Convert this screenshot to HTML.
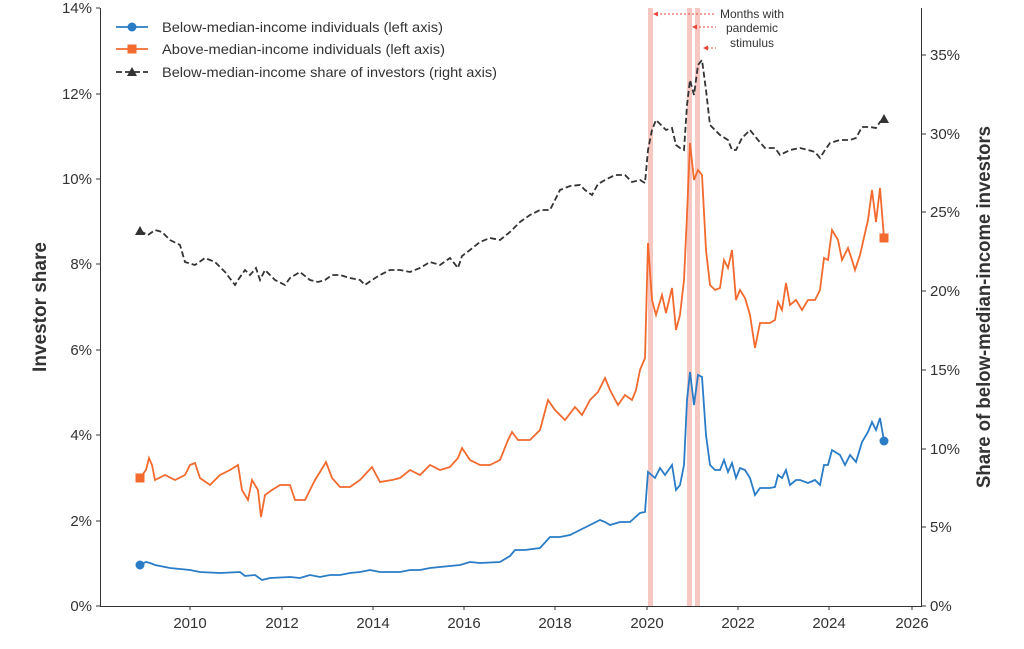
<!DOCTYPE html>
<html><head><meta charset="utf-8"><style>
html,body{margin:0;padding:0;background:#fff;}
svg text{font-family:"Liberation Sans",sans-serif;}
</style></head><body>
<svg width="1024" height="644" viewBox="0 0 1024 644" xmlns="http://www.w3.org/2000/svg">
<rect width="1024" height="644" fill="#fff"/>
<rect x="648" y="8" width="5" height="598" fill="#f4b6ae" opacity="0.75"/>
<rect x="687" y="8" width="5" height="598" fill="#f4b6ae" opacity="0.75"/>
<rect x="695" y="8" width="5" height="598" fill="#f4b6ae" opacity="0.75"/>
<g stroke="#333" stroke-width="1" fill="none">
<line x1="100.5" y1="8" x2="100.5" y2="606"/>
<line x1="921.5" y1="8" x2="921.5" y2="606"/>
<line x1="100" y1="606.5" x2="922" y2="606.5"/>
</g>
<g font-size="15" fill="#333" text-anchor="end">
<text x="92" y="611">0%</text><text x="92" y="526">2%</text><text x="92" y="440">4%</text>
<text x="92" y="355">6%</text><text x="92" y="269">8%</text><text x="92" y="184">10%</text>
<text x="92" y="99">12%</text><text x="92" y="13">14%</text>
</g>
<g stroke="#333"><line x1="96" y1="606" x2="100" y2="606"/><line x1="96" y1="521" x2="100" y2="521"/><line x1="96" y1="435" x2="100" y2="435"/><line x1="96" y1="350" x2="100" y2="350"/><line x1="96" y1="264" x2="100" y2="264"/><line x1="96" y1="179" x2="100" y2="179"/><line x1="96" y1="94" x2="100" y2="94"/><line x1="96" y1="8" x2="100" y2="8"/>
<line x1="922" y1="606" x2="926" y2="606"/><line x1="922" y1="527" x2="926" y2="527"/><line x1="922" y1="449" x2="926" y2="449"/><line x1="922" y1="370" x2="926" y2="370"/><line x1="922" y1="291" x2="926" y2="291"/><line x1="922" y1="212" x2="926" y2="212"/><line x1="922" y1="134" x2="926" y2="134"/><line x1="922" y1="55" x2="926" y2="55"/></g>
<g font-size="15" fill="#333">
<text x="930" y="611">0%</text><text x="930" y="532">5%</text><text x="930" y="454">10%</text>
<text x="930" y="375">15%</text><text x="930" y="296">20%</text><text x="930" y="217">25%</text>
<text x="930" y="139">30%</text><text x="930" y="60">35%</text>
</g>
<g font-size="15" fill="#333" text-anchor="middle">
<text x="190" y="628">2010</text><text x="282" y="628">2012</text><text x="373" y="628">2014</text>
<text x="464" y="628">2016</text><text x="555" y="628">2018</text><text x="647" y="628">2020</text>
<text x="738" y="628">2022</text><text x="829" y="628">2024</text><text x="912" y="628">2026</text>
</g>
<g stroke="#333"><line x1="190" y1="606" x2="190" y2="610"/><line x1="282" y1="606" x2="282" y2="610"/><line x1="373" y1="606" x2="373" y2="610"/><line x1="464" y1="606" x2="464" y2="610"/><line x1="555" y1="606" x2="555" y2="610"/><line x1="647" y1="606" x2="647" y2="610"/><line x1="738" y1="606" x2="738" y2="610"/><line x1="829" y1="606" x2="829" y2="610"/><line x1="912" y1="606" x2="912" y2="610"/></g>
<text transform="translate(46,307) rotate(-90)" font-size="19" font-weight="bold" fill="#333" text-anchor="middle">Investor share</text>
<text transform="translate(990,307) rotate(-90)" font-size="19" font-weight="bold" fill="#333" text-anchor="middle" textLength="362" lengthAdjust="spacingAndGlyphs">Share of below-median-income investors</text>
<polyline fill="none" stroke="#333" stroke-width="1.8" stroke-dasharray="6,3" points="140,231 148,235 155,230 162,232 170,240 180,245 185,262 195,265 205,258 215,262 225,272 235,285 238,280 245,270 250,275 256,268 260,280 265,270 275,280 285,285 290,278 300,272 310,280 318,282 325,280 332,275 340,275 350,278 360,280 365,285 372,280 380,275 390,270 400,270 410,272 420,268 430,262 440,265 450,258 458,268 462,256 470,250 480,242 490,238 500,240 510,232 520,222 530,215 540,210 550,210 555,200 560,190 570,186 580,185 585,190 592,195 598,184 605,180 615,175 625,175 632,182 640,180 645,183 648,150 652,130 656,120 662,126 666,130 672,128 676,145 680,148 684,150 687,105 690,80 694,95 698,65 702,60 706,90 710,125 720,135 728,140 732,150 736,150 742,138 750,130 758,140 765,148 775,148 780,155 790,150 800,148 808,150 815,152 820,158 825,150 830,143 840,140 850,140 856,138 862,127 870,127 876,128 880,122 884,119"/>
<polyline fill="none" stroke="#f26a2e" stroke-width="1.8" points="140,478 146,470 149,458 152,465 155,480 165,475 175,480 185,475 190,465 195,463 200,478 210,485 220,475 230,470 238,465 242,490 248,500 252,480 258,490 261,517 265,495 272,490 280,485 290,485 295,500 300,500 305,500 310,490 315,480 320,472 326,462 332,478 340,487 350,487 360,480 372,467 380,482 392,480 400,478 410,470 420,475 430,465 440,470 450,467 458,458 462,448 470,460 480,465 490,465 500,460 508,440 512,432 518,440 530,440 540,430 548,400 555,410 565,420 575,407 582,415 590,400 598,392 605,378 610,390 618,405 625,395 632,400 636,390 640,370 645,358 648,243 652,300 656,315 662,295 666,313 672,288 676,330 680,315 684,280 687,215 690,143 694,180 698,170 702,175 706,250 710,285 715,290 720,288 724,260 728,268 732,250 736,300 740,290 745,298 750,315 755,348 760,323 770,323 775,320 778,302 782,310 786,283 790,305 796,300 802,310 808,300 815,300 820,290 824,258 828,260 832,230 838,240 842,260 848,248 852,260 855,270 860,255 868,220 872,190 876,222 880,188 884,238"/>
<polyline fill="none" stroke="#2a7cc7" stroke-width="1.8" points="140,565 146,562 150,563 155,565 170,568 190,570 200,572 220,573 240,572 245,576 255,575 262,580 270,578 290,577 300,578 310,575 320,577 330,575 340,575 350,573 360,572 370,570 380,572 400,572 410,570 420,570 430,568 440,567 460,565 470,562 480,563 500,562 510,556 515,550 525,550 540,548 550,537 560,537 570,535 580,530 590,525 600,520 605,522 610,525 620,522 630,522 640,513 645,512 648,472 655,478 660,468 665,475 672,465 676,490 680,485 684,465 687,400 690,372 694,405 698,375 702,377 706,435 710,465 715,470 720,470 724,460 728,472 732,463 736,478 740,468 745,470 750,478 755,495 760,488 770,488 775,487 778,475 782,478 786,470 790,485 796,480 800,480 808,483 815,480 820,485 824,465 828,465 832,450 840,455 845,465 850,455 856,462 862,442 868,432 872,422 876,430 880,418 884,441"/>
<circle cx="140" cy="565" r="4.5" fill="#2a7cc7"/><circle cx="884" cy="441" r="4.5" fill="#2a7cc7"/>
<rect x="135.5" y="473.5" width="9" height="9" fill="#f26a2e"/><rect x="879.5" y="233.5" width="9" height="9" fill="#f26a2e"/>
<polygon points="140,226 145,235 135,235" fill="#333"/><polygon points="884,114 889,123 879,123" fill="#333"/>
<line x1="116" y1="27" x2="148" y2="27" stroke="#2a7cc7" stroke-width="1.8"/><circle cx="132" cy="27" r="4.5" fill="#2a7cc7"/>
<line x1="116" y1="49" x2="148" y2="49" stroke="#f26a2e" stroke-width="1.8"/><rect x="127.5" y="44.5" width="9" height="9" fill="#f26a2e"/>
<line x1="116" y1="72" x2="148" y2="72" stroke="#333" stroke-width="1.8" stroke-dasharray="6,3"/><polygon points="132,67 137,76 127,76" fill="#333"/>
<g font-size="14" fill="#333">
<text x="162" y="32" textLength="281" lengthAdjust="spacingAndGlyphs">Below-median-income individuals (left axis)</text>
<text x="162" y="54" textLength="283" lengthAdjust="spacingAndGlyphs">Above-median-income individuals (left axis)</text>
<text x="162" y="77" textLength="335" lengthAdjust="spacingAndGlyphs">Below-median-income share of investors (right axis)</text>
</g>
<g stroke="#e8453c" stroke-width="1" stroke-dasharray="2,2" fill="none">
<line x1="656" y1="14" x2="716" y2="14"/><line x1="695" y1="27" x2="716" y2="27"/><line x1="707" y1="48" x2="716" y2="48"/>
</g>
<g fill="#e8453c"><polygon points="653,14 658,11.5 658,16.5"/><polygon points="692,27 697,24.5 697,29.5"/><polygon points="703,48 708,45.5 708,50.5"/></g>
<g font-size="12" fill="#333" text-anchor="middle">
<text x="752" y="18">Months with</text><text x="752" y="32">pandemic</text><text x="752" y="47">stimulus</text>
</g>
</svg>
</body></html>
